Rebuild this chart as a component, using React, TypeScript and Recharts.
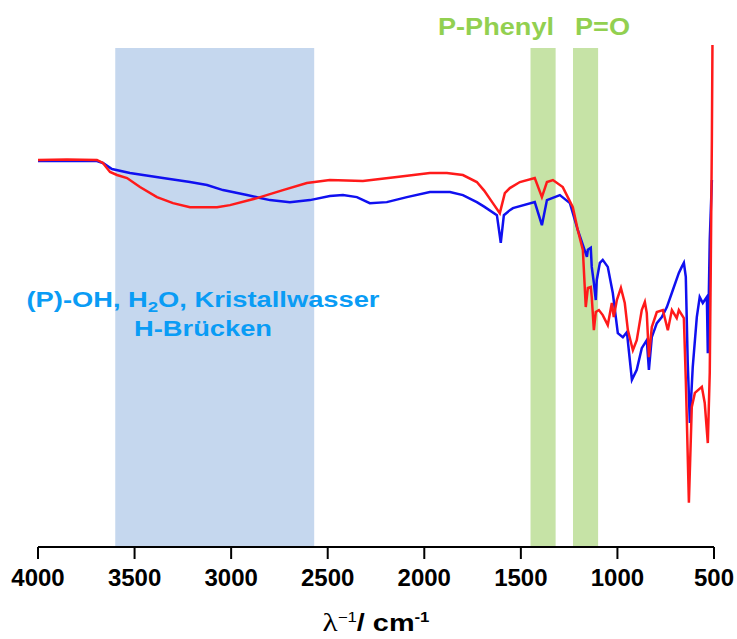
import React from "react";
import { LineChart, Line, XAxis, YAxis, ReferenceArea } from "recharts";

// Wavenumbers (cm^-1) and relative transmittance (%)
const redW = [4000, 3850, 3695, 3664, 3627, 3591, 3539, 3472, 3384, 3301, 3213, 3073, 3006, 2866, 2732, 2608, 2489, 2318, 2230, 2142, 1971, 1883, 1800, 1728, 1690, 1645, 1609, 1583, 1557, 1505, 1428, 1391, 1365, 1334, 1283, 1231, 1205, 1179, 1164, 1153, 1138, 1133, 1122, 1112, 1096, 1076, 1050, 1029, 1019, 1003, 982, 962, 946, 920, 900, 874, 858, 848, 837, 822, 796, 765, 739, 718, 693, 682, 656, 646, 641, 630, 615, 599, 563, 548, 532, 522, 517, 511, 508];
const redT = [77.1, 77.2, 77.1, 76.5, 74.7, 74.1, 73.5, 71.7, 69.7, 68.5, 67.7, 67.7, 68.1, 69.5, 71.1, 72.5, 73.1, 72.9, 73.3, 73.7, 74.5, 74.5, 74.1, 72.7, 71.0, 68.5, 66.5, 70.5, 71.5, 72.7, 73.5, 69.7, 72.7, 73.1, 71.7, 67.7, 63.1, 59.2, 47.8, 51.6, 51.8, 49.8, 43.2, 46.8, 47.2, 46.2, 44.2, 48.6, 45.8, 49.2, 51.6, 48.6, 43.2, 39.2, 41.2, 47.2, 48.8, 46.6, 37.8, 43.8, 46.8, 47.2, 43.2, 47.2, 45.6, 47.2, 45.6, 33.3, 25.9, 8.8, 27.9, 30.7, 31.9, 28.7, 20.7, 34.7, 54.6, 81.1, 100];

const blueW = [4000, 3850, 3695, 3664, 3617, 3524, 3353, 3213, 3125, 3042, 2918, 2799, 2696, 2592, 2489, 2421, 2349, 2282, 2194, 2090, 1971, 1867, 1800, 1728, 1690, 1624, 1604, 1588, 1557, 1541, 1428, 1391, 1365, 1298, 1246, 1205, 1158, 1153, 1138, 1133, 1122, 1112, 1107, 1091, 1076, 1050, 1024, 998, 972, 951, 925, 900, 874, 848, 837, 822, 796, 770, 744, 713, 682, 667, 656, 646, 636, 625, 610, 589, 574, 558, 537, 532, 522, 511];
const blueT = [76.9, 76.9, 76.9, 76.5, 75.3, 74.5, 73.5, 72.7, 72.1, 71.1, 70.1, 69.1, 68.7, 69.1, 69.9, 70.1, 69.7, 68.5, 68.7, 69.7, 70.7, 70.7, 70.1, 68.7, 67.8, 66.1, 60.6, 66.1, 67.1, 67.5, 68.7, 64.1, 69.1, 70.1, 68.5, 63.1, 57.8, 59.2, 59.6, 55.8, 52.6, 49.2, 53.2, 56.6, 57.2, 55.8, 50.6, 42.6, 41.8, 42.8, 33.3, 35.3, 39.6, 41.2, 35.3, 41.8, 44.6, 45.8, 47.8, 51.2, 54.6, 55.8, 56.6, 53.8, 36.7, 24.7, 35.9, 45.8, 49.8, 48.6, 49.8, 38.6, 61.2, 73.1];

const xTicks = [4000, 3500, 3000, 2500, 2000, 1500, 1000, 500];

// Band regions (cm^-1)
const ohBand = [3600, 2570];
const phenylBand = [1450, 1320];
const poBand = [1230, 1100];

const redData = redW.map((w, i) => ({ w, t: redT[i] }));
const blueData = blueW.map((w, i) => ({ w, t: blueT[i] }));

const sans = "'Liberation Sans', Arial, sans-serif";

export default function App() {
  return (
    <div style={{ position: "absolute", left: 0, top: 0, width: 737, height: 639, background: "#fff", overflow: "hidden" }}>
      <LineChart width={737} height={639} margin={{ top: 45, right: 23, bottom: 0, left: 38 }}>
        <XAxis
          type="number"
          dataKey="w"
          domain={[500, 4000]}
          reversed
          ticks={xTicks}
          allowDataOverflow
          height={92}
          stroke="#000"
          strokeWidth={2}
          tickSize={12}
          tickMargin={10}
          tick={{ fill: "#000", fontSize: 24, fontWeight: 700, fontFamily: sans }}
        />
        <YAxis type="number" domain={[0, 100]} hide allowDataOverflow />
        <ReferenceArea x1={ohBand[0]} x2={ohBand[1]} y1={0} y2={99.4} fill="#c5d7ee" fillOpacity={1} stroke="none" />
        <ReferenceArea x1={phenylBand[0]} x2={phenylBand[1]} y1={0} y2={99.4} fill="#c6e3a6" fillOpacity={1} stroke="none" />
        <ReferenceArea x1={poBand[0]} x2={poBand[1]} y1={0} y2={99.4} fill="#c6e3a6" fillOpacity={1} stroke="none" />
        <Line data={blueData} dataKey="t" type="linear" stroke="#1010f0" strokeWidth={2.5} dot={false} isAnimationActive={false} />
        <Line data={redData} dataKey="t" type="linear" stroke="#ff1a1a" strokeWidth={2.5} dot={false} isAnimationActive={false} />
      </LineChart>

      <div style={{ position: "absolute", left: 0, top: 0, width: 737, height: 639, pointerEvents: "none", fontFamily: sans, fontWeight: 700 }}>
        <div style={{ position: "absolute", left: 438, top: 12, fontSize: 24, color: "#92d050", lineHeight: "30px", whiteSpace: "nowrap", transform: "scaleX(1.13)", transformOrigin: "left center" }}>P-Phenyl</div>
        <div style={{ position: "absolute", left: 575, top: 12, fontSize: 24, color: "#92d050", lineHeight: "30px", whiteSpace: "nowrap", transform: "scaleX(1.13)", transformOrigin: "left center" }}>P=O</div>
        <div style={{ position: "absolute", left: 3, width: 400, top: 285, height: 30, fontSize: 22, color: "#0a9cf5", lineHeight: "29.4px", textAlign: "center", whiteSpace: "nowrap", transform: "scaleX(1.24)", transformOrigin: "center center" }}>
          (P)-OH, H<sub style={{ fontSize: 15, lineHeight: 0 }}>2</sub>O, Kristallwasser
        </div>
        <div style={{ position: "absolute", left: 3, width: 400, top: 314.4, height: 30, fontSize: 22, color: "#0a9cf5", lineHeight: "29.4px", textAlign: "center", whiteSpace: "nowrap", transform: "scaleX(1.24)", transformOrigin: "center center" }}>
          H-Brücken
        </div>
        <div style={{ position: "absolute", left: 0, width: 752, top: 610, height: 26, textAlign: "center", fontSize: 24, color: "#000", lineHeight: "26px", whiteSpace: "nowrap", transform: "scaleX(1.2)", transformOrigin: "376px center" }}>
          <span style={{ fontFamily: "'Liberation Serif', 'Times New Roman', serif", fontWeight: 400, fontSize: 26 }}>λ</span>
          <sup style={{ fontSize: 14, fontWeight: 400, lineHeight: 0 }}>−1</sup>
          <span>/ cm</span>
          <sup style={{ fontSize: 14, lineHeight: 0 }}>-1</sup>
        </div>
      </div>
    </div>
  );
}
